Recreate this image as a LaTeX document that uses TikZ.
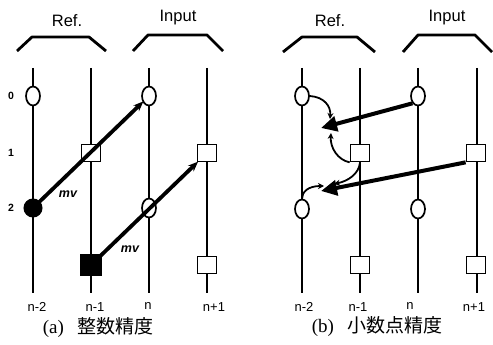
\documentclass[tikz,border=0pt]{standalone}
\usepackage{fontspec}
\setmainfont{Liberation Sans}
\newfontfamily\cjk{Noto Sans CJK JP}
\newfontfamily\serifcap{Liberation Serif}
\usetikzlibrary{arrows.meta,shapes.geometric}
\tikzset{
  x=1pt, y=-1pt,
  lane/.style={line width=1.7pt},
  bracket/.style={line width=2.8pt, line join=round},
  pel/.style={ellipse, draw, fill=white, line width=1.7pt, minimum width=14pt, minimum height=19pt, inner sep=0pt},
  pelfull/.style={circle, draw, fill=black, line width=1pt, minimum size=18pt, inner sep=0pt},
  blk/.style={rectangle, draw, fill=white, line width=1.7pt, minimum width=19pt, minimum height=17pt, inner sep=0pt},
  blkfull/.style={rectangle, draw, fill=black, line width=1pt, minimum width=21pt, minimum height=21pt, inner sep=0pt},
  mvarrow/.style={line width=3.8pt, -{Stealth[length=10pt,width=8pt]}, shorten >=-1pt},
  bigarrow/.style={line width=4pt, -{Triangle[length=16pt,width=15pt]}},
  thinarrow/.style={line width=1.8pt, -{Stealth[length=6pt,width=6pt]}},
  hdr/.style={font=\fontsize{16.5}{18}\selectfont},
  idx/.style={font=\fontsize{13}{14}\selectfont},
  rowno/.style={font=\bfseries\fontsize{10.5}{12}\selectfont},
  mvlabel/.style={font=\bfseries\itshape\fontsize{12.5}{14}\selectfont},
  caption/.style={font=\fontsize{19}{22}\selectfont}
}
\begin{document}
\begin{tikzpicture}
\useasboundingbox (0,0) rectangle (493,345);

% ---------------- (a) integer-pel ----------------
\foreach \x in {33,91,149,207} \draw[lane] (\x,68) -- (\x,293);
\draw[bracket] (17,51) -- (32,37) -- (89,37) -- (106,51);
\draw[bracket] (133,51) -- (148,35) -- (207,35) -- (223,51);
\node[hdr] (aref) at (67,21) {Ref.};
\node[hdr] (ain) at (178,18) {Input};
\node[rowno] (r0) at (11,96) {0};
\node[rowno] (r1) at (11,153) {1};
\node[rowno] (r2) at (11,208) {2};

\node[pel]     (ae0) at (33,96) {};
\node[pelfull] (ae2) at (33,208) {};
\node[blk]     (as1) at (91,153) {};
\node[blkfull] (as3) at (91,265) {};
\node[pel]     (ae4) at (149,96) {};
\node[pel]     (ae5) at (149,208) {};
\node[blk]     (as6) at (207,153) {};
\node[blk]     (as7) at (207,265) {};

\draw[mvarrow] (ae2.center) -- (ae4);
\draw[mvarrow] (as3.center) -- (as6);
\node[mvlabel] (amv1) at (68,194) {mv};
\node[mvlabel] (amv2) at (130,249) {mv};

\node[idx] (an2) at (37,307) {n-2};
\node[idx] (an1) at (95,307) {n-1};
\node[idx] (an0) at (148,306) {n};
\node[idx] (anp) at (214,307) {n+1};
\node[caption] (acap) at (98,328) {\serifcap(a)\hspace{0.7em}\cjk 整数精度};

% ---------------- (b) fractional-pel ----------------
\foreach \x in {302,360,418,477} \draw[lane] (\x,68) -- (\x,293);
\draw[bracket] (283,52) -- (302,37) -- (357,37) -- (375,52);
\draw[bracket] (403,52) -- (418,35) -- (475,35) -- (492,52);
\node[hdr] (bref) at (330,21) {Ref.};
\node[hdr] (bin) at (447,18) {Input};

\node[pel] (be0) at (302,96) {};
\node[pel] (be2) at (302,209) {};
\node[blk] (bs1) at (360,153) {};
\node[blk] (bs3) at (360,265) {};
\node[pel] (be4) at (418,96) {};
\node[pel] (be5) at (418,209) {};
\node[blk] (bs6) at (476,153) {};
\node[blk] (bs7) at (476,265) {};

\coordinate (h1) at (321,128);
\coordinate (h2) at (321,191);
\coordinate (h1a) at (330,119);
\coordinate (h1b) at (331,133);
\coordinate (h2a) at (334,184);
\coordinate (h2b) at (324,186);

% interpolation sources
\draw[thinarrow] (be0.east) .. controls (324,97) and (331,106) .. (h1a);
\draw[thinarrow] (bs1.south west) .. controls (338,160) and (330,148) .. (h1b);
\draw[thinarrow] (bs1.south) .. controls (359,174) and (348,181) .. (h2a);
\draw[thinarrow] (be2.north) .. controls (302,192) and (308,186) .. (h2b);

% fractional motion vectors
\draw[bigarrow] (be4.south west) -- (h1);
\draw[bigarrow] (bs6.south west) -- (h2);

\node[idx] (bn2) at (304,307) {n-2};
\node[idx] (bn1) at (358,307) {n-1};
\node[idx] (bn0) at (410,306) {n};
\node[idx] (bnp) at (474,307) {n+1};
\node[caption] (bcap) at (377,327) {\serifcap(b)\hspace{0.7em}\cjk 小数点精度};
\end{tikzpicture}
\end{document}
